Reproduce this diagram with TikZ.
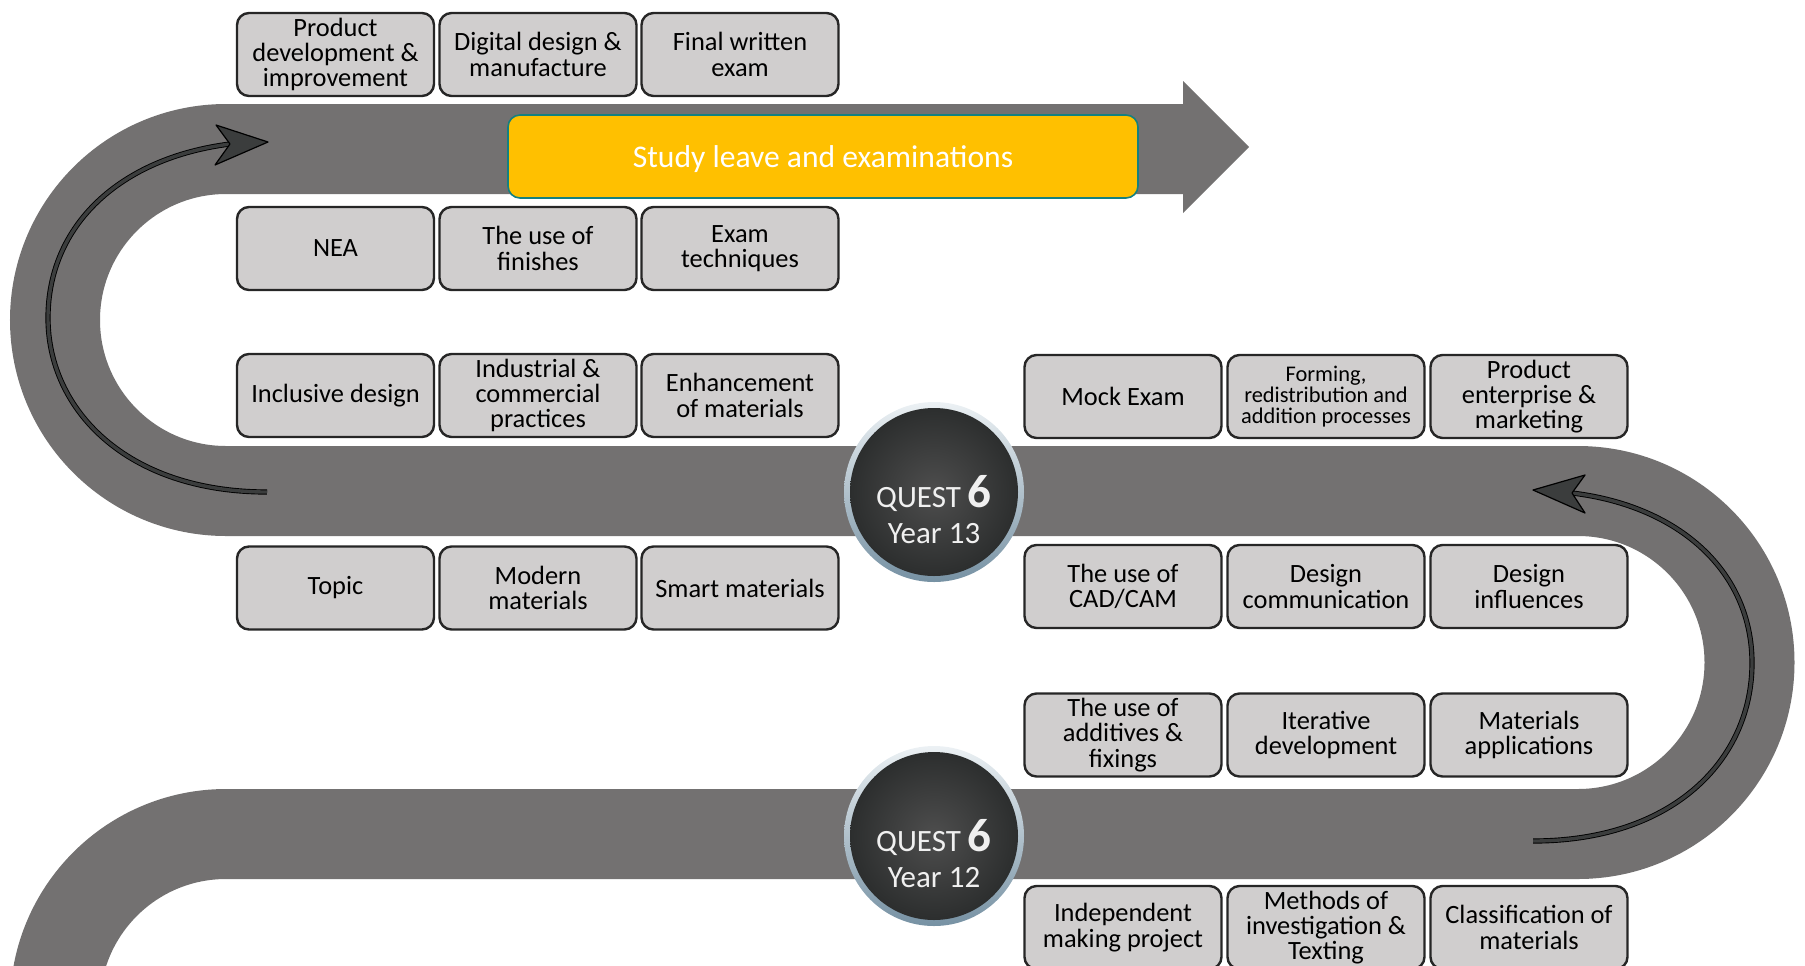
\documentclass[tikz,border=0pt]{standalone}
\usepackage{fontspec}
\setmainfont{Carlito}
\usepackage{tikz}

\definecolor{roadgray}{RGB}{115,113,113}
\definecolor{topicfill}{RGB}{208,206,206}
\definecolor{topicline}{RGB}{38,38,38}
\definecolor{studyfill}{RGB}{255,192,0}
\definecolor{studyline}{RGB}{20,128,128}
\definecolor{curvefill}{RGB}{59,61,61}
\definecolor{ringtop}{RGB}{236,241,244}
\definecolor{ringbot}{RGB}{118,145,163}
\definecolor{corein}{RGB}{78,78,78}
\definecolor{coreout}{RGB}{44,46,46}

\begin{document}
\begin{tikzpicture}[x=0.5pt,y=-0.5pt,
  topic/.style={draw=topicline, line width=1.2pt, fill=topicfill, rounded corners=6pt,
    minimum width=98.5pt, minimum height=41.5pt, inner sep=1pt, align=center,
    font=\fontsize{13.2}{12.7}\selectfont},
  topicsmall/.style={topic, font=\fontsize{11.2}{10.6}\selectfont},
  study/.style={draw=studyline, line width=0.8pt, fill=studyfill, rounded corners=6pt,
    minimum width=315pt, minimum height=41.5pt, text=white, text height=11pt, text depth=0.5pt,
    font=\fontsize{15.8}{16}\selectfont},
  questring/.style={circle, minimum size=90pt, inner sep=0pt, top color=ringtop, bottom color=ringbot},
  questcore/.style={circle, minimum size=84pt, inner sep=0pt, inner color=corein, outer color=coreout},
  questlabel/.style={anchor=base, inner sep=0pt, text=white!94!black, font=\fontsize{15.5}{18}\selectfont},
  curveshaft/.style={draw=black, line width=0.45pt, double=curvefill, double distance=1.7pt},
  curvehead/.style={draw=black, line width=0.6pt, fill=curvefill, line join=round}]
\useasboundingbox (0,0) rectangle (1805,965);
\clip (0,0) rectangle (1805,965);

\draw[roadgray, line width=45pt] (55,1005) arc[start angle=180, end angle=270, radius=171]
  -- (1578,834) arc[start angle=90, end angle=-90, radius=171.5]
  -- (226,491) arc[start angle=90, end angle=270, radius=171]
  -- (1184,149);
\fill[roadgray] (1183,81) -- (1249,147) -- (1183,213) -- cycle;

\coordinate (c13tail) at (267,492);
\coordinate (c13notch) at (230,144);
\coordinate (c12tail) at (1533,841);
\coordinate (c12notch) at (1572,493);
\draw[curveshaft] (c13tail) .. controls (127,492) and (48,410) .. (48,318)
  .. controls (48,225) and (120,158) .. (c13notch);
\filldraw[curvehead] (268,142) -- (216,125) -- (c13notch) -- (215,165) -- cycle;
\draw[curveshaft] (c12tail) .. controls (1673,841) and (1752,760) .. (1752,663)
  .. controls (1752,572) and (1680,506) .. (c12notch);
\filldraw[curvehead] (1533,490) -- (1585,475) -- (c12notch) -- (1585,513) -- cycle;

\node[study] (leave) at (823,156.5) {Study leave and examinations};

\node[topic] (proddev) at (335.5,54.5) {Product\\development \&\\improvement};
\node[topic] (digital) at (538,54.5) {Digital design \&\\manufacture};
\node[topic] (final) at (740,54.5) {Final written\\exam};
\node[topic] (nea) at (335.5,248.5) {NEA};
\node[topic] (finishes) at (538,248.5) {The use of\\finishes};
\node[topic] (techniques) at (740,248.5) {Exam\\techniques};
\node[topic] (inclusive) at (335.5,395.5) {Inclusive design};
\node[topic] (industrial) at (538,395.5) {Industrial \&\\commercial\\practices};
\node[topic] (enhance) at (740,395.5) {Enhancement\\of materials};
\node[topic] (topicbox) at (335.5,588) {Topic};
\node[topic] (modern) at (538,588) {Modern\\materials};
\node[topic] (smart) at (740,588) {Smart materials};

\node[topic] (mock) at (1123,396.5) {Mock Exam};
\node[topicsmall] (forming) at (1326,396.5) {Forming,\\redistribution and\\addition processes};
\node[topic] (enterprise) at (1529,396.5) {Product\\enterprise \&\\marketing};
\node[topic] (cadcam) at (1123,586.5) {The use of\\CAD/CAM};
\node[topic] (comm) at (1326,586.5) {Design\\communication};
\node[topic] (influences) at (1529,586.5) {Design\\influences};
\node[topic] (additives) at (1123,735) {The use of\\additives \&\\fixings};
\node[topic] (iterative) at (1326,735) {Iterative\\development};
\node[topic] (applications) at (1529,735) {Materials\\applications};
\node[topic] (making) at (1123,927.5) {Independent\\making project};
\node[topic] (methods) at (1326,927.5) {Methods of\\investigation \&\\Texting};
\node[topic] (classify) at (1529,927.5) {Classification of\\materials};

\node[questring] (q13ring) at (934,492) {};
\node[questcore] (q13) at (q13ring) {};
\node[questlabel] (q13quest) at (934,507) {QUEST {\bfseries\fontsize{23.5}{24}\selectfont 6}};
\node[questlabel] (q13year) at (934,543) {Year 13};

\node[questring] (q12ring) at (934,836) {};
\node[questcore] (q12) at (q12ring) {};
\node[questlabel] (q12quest) at (934,851) {QUEST {\bfseries\fontsize{23.5}{24}\selectfont 6}};
\node[questlabel] (q12year) at (934,887) {Year 12};
\end{tikzpicture}
\end{document}
